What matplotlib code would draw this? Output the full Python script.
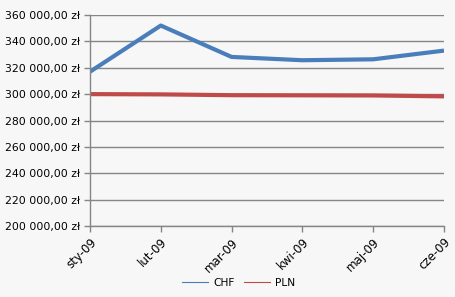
import matplotlib
matplotlib.use('Agg')
import matplotlib.pyplot as plt
import matplotlib.transforms as mtransforms
from matplotlib.ticker import FuncFormatter, MultipleLocator

plt.rcParams['font.family'] = ['DejaVu Sans']

months = ['sty-09', 'lut-09', 'mar-09', 'kwi-09', 'maj-09', 'cze-09']
chf = [317000, 352000, 328200, 325700, 326400, 333000]
pln = [300000, 299800, 299200, 299100, 299000, 298300]

bg = '#f7f7f7'
grid_color = '#868686'

fig = plt.figure(figsize=(4.55, 2.97), dpi=100)
fig.patch.set_facecolor(bg)
ax = fig.add_axes([90 / 455, 71 / 297, 354 / 455, 211 / 297])
ax.set_facecolor(bg)

x = range(len(months))
ax.plot(x, chf, color='#4a7ebb', lw=3.0, label='CHF', solid_capstyle='butt')
ax.plot(x, pln, color='#be4b48', lw=3.0, label='PLN', solid_capstyle='butt')

ax.set_xlim(0, len(months) - 1)
ax.set_ylim(200000, 360000)
ax.yaxis.set_major_locator(MultipleLocator(20000))


def fmt(v, pos):
    s = f'{v:,.2f}'.replace(',', ' ').replace('.', ',')
    return s + ' zł'


ax.yaxis.set_major_formatter(FuncFormatter(fmt))
ax.set_xticks(list(x))
ax.set_xticklabels(months, rotation=45, ha='right', rotation_mode='anchor')

# nudge rotated labels so their upper end sits just right of / below the tick
offset = mtransforms.ScaledTranslation(4 / 100, -6 / 100, fig.dpi_scale_trans)
for lbl in ax.get_xticklabels():
    lbl.set_transform(lbl.get_transform() + offset)

ax.grid(axis='y', color=grid_color, lw=1.0)
ax.set_axisbelow(True)
for side in ['top', 'right']:
    ax.spines[side].set_visible(False)
for side in ['left', 'bottom']:
    ax.spines[side].set_color(grid_color)
    ax.spines[side].set_linewidth(1.0)
ax.tick_params(axis='both', colors=grid_color, labelcolor='black',
               length=4, width=1.0)
ax.tick_params(axis='y', pad=3, labelsize=7.8)
ax.tick_params(axis='x', pad=3, labelsize=8.5)

leg = fig.legend(handles=[plt.Line2D([], [], color='#4a7ebb', lw=0.8),
                          plt.Line2D([], [], color='#be4b48', lw=0.8)],
                 labels=['CHF', 'PLN'], loc='center', bbox_to_anchor=(239 / 455, 14 / 297),
                 ncol=2, frameon=False, fontsize=7.7, handlelength=2.4,
                 columnspacing=0.9, handletextpad=0.5)

fig.savefig('out.png', dpi=100, facecolor=bg)
